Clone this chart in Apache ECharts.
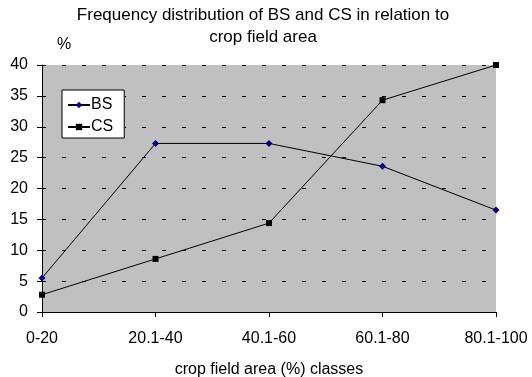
<!DOCTYPE html>
<html><head><meta charset="utf-8">
<script src="https://cdn.jsdelivr.net/npm/echarts@6/dist/echarts.min.js"></script>
<style>html,body{margin:0;padding:0;background:#fff}#c{width:532px;height:377px}</style>
</head><body><div id="c"></div>
<script>
const categories = ['0-20', '20.1-40', '40.1-60', '60.1-80', '80.1-100'];
const bsValues = [5.5, 27.3, 27.3, 23.6, 16.5];
const csValues = [2.8, 8.6, 14.4, 34.3, 40];
const yTicks = {min: 0, max: 40, interval: 5};

const chart = echarts.init(document.getElementById('c'), null, {renderer: 'canvas'});
const font = 'Liberation Sans, Arial, sans-serif';
chart.setOption({
  animation: false,
  backgroundColor: '#ffffff',
  title: {
    text: 'Frequency distribution of BS and CS in relation to\ncrop field area',
    left: 263, top: 4, textAlign: 'center', padding: 0,
    textStyle: {fontFamily: font, fontSize: 17, fontWeight: 'normal', color: '#000', lineHeight: 22}
  },
  grid: {left: 42, right: 36, top: 65, bottom: 65, show: true, backgroundColor: '#c0c0c0', borderWidth: 0,
         containLabel: false, outerBoundsMode: 'none'},
  legend: {
    left: 62, top: 90, orient: 'vertical',
    backgroundColor: '#ffffff', borderColor: '#000', borderWidth: 1,
    padding: [7, 11, 3, 5], itemGap: 6, itemWidth: 22, itemHeight: 8,
    textStyle: {fontFamily: font, fontSize: 16, color: '#000', padding: [0, 0, 0, -4]},
    data: ['BS', 'CS']
  },
  graphic: [{type: 'text', left: 57, top: 37, style: {text: '%', fontFamily: font, fontSize: 16, fill: '#000'}}],
  xAxis: {
    type: 'category', data: categories, boundaryGap: false,
    name: 'crop field area (%) classes', nameLocation: 'middle', nameGap: 50,
    nameTextStyle: {fontFamily: font, fontSize: 16, color: '#000'},
    axisLine: {lineStyle: {color: '#000', width: 1}},
    axisTick: {show: true, length: 5, lineStyle: {color: '#000'}, inside: false},
    axisLabel: {fontFamily: font, fontSize: 16, color: '#000', margin: 19},
    splitLine: {show: false}
  },
  yAxis: {
    type: 'value', min: yTicks.min, max: yTicks.max, interval: yTicks.interval,
    axisLine: {show: true, lineStyle: {color: '#000', width: 1}},
    axisTick: {show: true, length: 5, lineStyle: {color: '#000'}},
    axisLabel: {fontFamily: font, fontSize: 16, color: '#000', margin: 14},
    splitLine: {show: true, lineStyle: {color: '#000', type: [4, 16], width: 1}}
  },
  series: [
    {name: 'BS', type: 'line', data: bsValues, symbol: 'diamond', symbolSize: 7,
     lineStyle: {color: '#000', width: 1}, itemStyle: {color: '#000080'}},
    {name: 'CS', type: 'line', data: csValues, symbol: 'rect', symbolSize: 6,
     lineStyle: {color: '#000', width: 1}, itemStyle: {color: '#000'}}
  ]
});
</script></body></html>
